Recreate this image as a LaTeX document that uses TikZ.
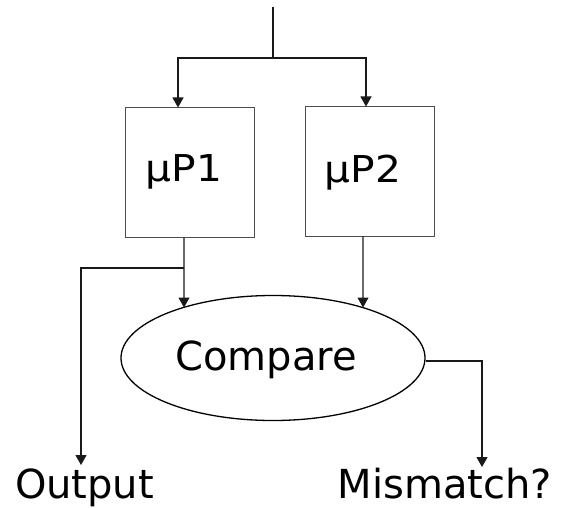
\documentclass[tikz,border=0pt]{standalone}
\usepackage{fontspec}
\setmainfont{DejaVu Sans}
\usetikzlibrary{arrows.meta,shapes.geometric}
\begin{document}
\begin{tikzpicture}[x=1bp,y=-1bp,
  line/.style={line width=1.1bp,draw=black!90},
  arr/.style={line, -{Triangle[width=11bp,length=10bp]}},
  box/.style={draw=black!70,line width=1bp,minimum width=129bp,minimum height=129bp,inner sep=0pt},
  big/.style={font=\fontsize{40bp}{48bp}\selectfont, inner sep=0pt},
  boxtxt/.style={font=\fontsize{37bp}{44bp}\selectfont, inner sep=0pt}]
\useasboundingbox (0,0) rectangle (562,508);
% nodes
\coordinate (in) at (273,7);
\coordinate (split) at (273,58);
\node[box] (p1) at (189.5,172.5) {};
\node[box] (p2) at (369.5,171.5) {};
\node[boxtxt,anchor=base] (p1t) at (184,182) {\scalebox{1.1}[1]{µP1}};
\node[boxtxt,anchor=base] (p2t) at (363,183) {\scalebox{1.1}[1]{µP2}};
\node[draw,ellipse,line width=1.3bp,minimum width=304bp,minimum height=125bp,inner sep=0pt] (cmp) at (273,358) {};
\node[big,anchor=base] (cmpt) at (266,370) {Compare};
\node[big,anchor=base] (out) at (84.5,498) {Output};
\node[big,anchor=base] (mis) at (445,498) {Mismatch?};
\coordinate (e1) at (184,307.5);
\coordinate (e2) at (363,307.5);
\coordinate (br) at (184,268);
\coordinate (oend) at (81,465);
\coordinate (mend) at (482,467);
% connectors
\draw[line] (in) -- (split);
\draw[arr] (split) -| ([xshift=-11.5bp]p1.north);
\draw[arr] (split) -| ([xshift=-3.5bp]p2.north);
\draw[arr] ([xshift=-5.5bp]p1.south) -- (e1);
\draw[arr] ([xshift=-6.5bp]p2.south) -- (e2);
\draw[arr] (br) -| (oend);
\draw[arr] ([yshift=-3bp]cmp.east) -| (mend);
\end{tikzpicture}
\end{document}
